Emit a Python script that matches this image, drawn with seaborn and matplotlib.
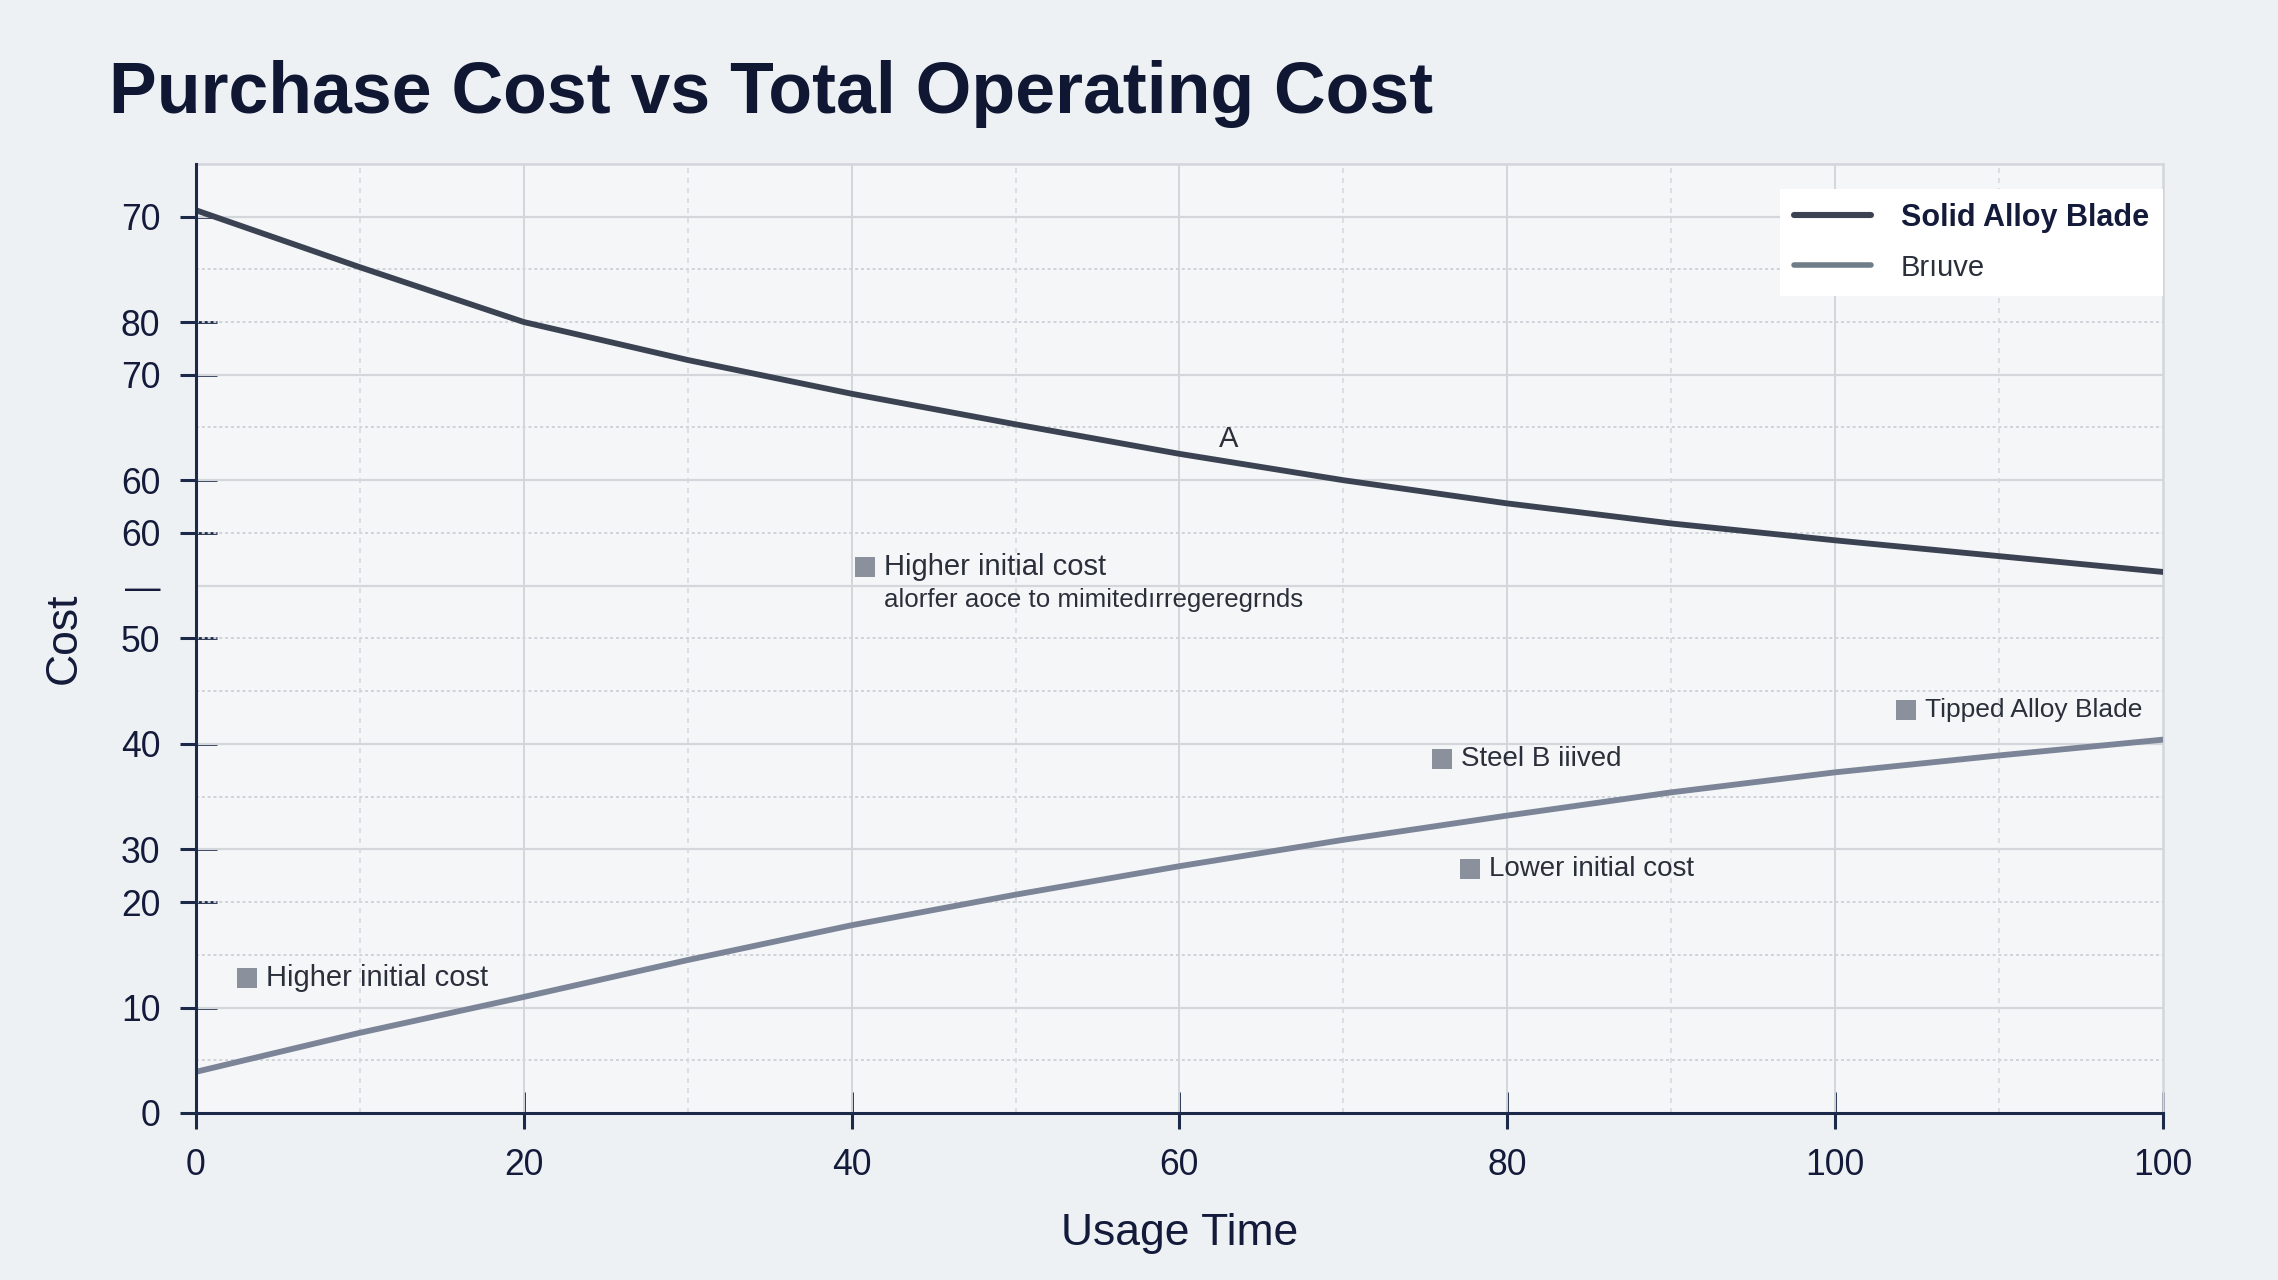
import matplotlib
matplotlib.use("Agg")
import matplotlib.pyplot as plt
from matplotlib.lines import Line2D
from matplotlib.collections import LineCollection
import matplotlib.transforms as mtransforms
import numpy as np
import pandas as pd
import seaborn as sns

# ---------------- data ----------------
usage_time = [0, 10, 20, 30, 40, 50, 60, 70, 80, 90, 100, 110, 120]
solid_alloy_cost = [85.6, 80.2, 75.0, 71.4, 68.2, 65.3, 62.5, 60.0, 57.8, 55.9, 54.3, 52.8, 51.3]
tipped_cost = [3.9, 7.6, 11.0, 14.5, 17.8, 20.7, 23.4, 25.9, 28.2, 30.4, 32.3, 33.9, 35.4]
series_names = ["Solid Alloy Blade", "Brıuve"]

x_tick_pos = [0, 20, 40, 60, 80, 100, 120]
x_tick_labels = ["0", "20", "40", "60", "80", "100", "100"]
y_tick_pos = [0, 10, 20, 25, 35, 45, 50, 55, 60, 70, 75, 85]
y_tick_labels = ["0", "10", "20", "30", "40", "50", "—", "60", "60", "70", "80", "70"]

grid_solid_y = [10, 25, 35, 50, 60, 70, 85]
grid_dotted_y = [5, 15, 20, 30, 40, 45, 55, 65, 75, 80]
grid_solid_x = [20, 40, 60, 80, 100]
grid_dashed_x = [10, 30, 50, 70, 90, 110]

note_texts = ["Higher initial cost", "Steel B iiived", "Tipped Alloy Blade",
              "Lower initial cost", "Higher initial cost"]
note_x = [40.8, 76.0, 104.3, 77.7, 3.1]
note_y = [51.8, 33.6, 38.2, 23.1, 12.8]
note_sizes = [10.5, 10, 9.5, 10, 10.5]
sub_note_text = "alorfer aoce to mimitedırregeregrnds"
sub_note_xy = (42.0, 48.6)
letter_note = "A"
letter_xy = (63.0, 63.9)

# ---------------- style ----------------
sns.set_theme(style="white")
plt.rcParams["font.family"] = ["Liberation Sans", "DejaVu Sans"]

FIG_BG = "#eef1f4"
AX_BG = "#f4f6f8"
NAVY = "#141b3a"
DARK_LINE = "#3b4353"
LIGHT_LINE = "#7c8497"
SQUARE = "#8a909c"
AXIS_COL = "#1c2a4a"

fig = plt.figure(figsize=(11.39, 6.4), dpi=200, facecolor=FIG_BG)
ax = fig.add_axes([0.086, 0.1305, 0.8635, 0.7415])
ax.set_facecolor(AX_BG)

df = pd.DataFrame({
    "Usage Time": usage_time * 2,
    "Cost": solid_alloy_cost + tipped_cost,
    "Series": [series_names[0]] * len(usage_time) + [series_names[1]] * len(usage_time),
})
sns.lineplot(data=df, x="Usage Time", y="Cost", hue="Series",
             palette=[DARK_LINE, LIGHT_LINE], linewidth=2.1, ax=ax, legend=False,
             zorder=5)

ax.set_xlim(0, 120)
ax.set_ylim(0, 90)

# grid
for y in grid_solid_y:
    ax.axhline(y, color="#d3d7dc", lw=0.8, zorder=1)
for y in grid_dotted_y:
    ax.axhline(y, color="#cfd3d8", lw=0.7, ls=(0, (1.5, 1.5)), zorder=1)
for x in grid_solid_x:
    ax.axvline(x, color="#d3d7dc", lw=0.7, zorder=1)
for x in grid_dashed_x:
    ax.axvline(x, color="#d6dadf", lw=0.6, ls=(0, (3, 3)), zorder=1)

# spines
for s in ["top", "right"]:
    ax.spines[s].set_color("#d2d6db")
    ax.spines[s].set_linewidth(0.9)
for s in ["left", "bottom"]:
    ax.spines[s].set_color(AXIS_COL)
    ax.spines[s].set_linewidth(1.1)
    ax.spines[s].set_zorder(7)

# ticks
ax.xaxis.remove_overlapping_locs = False
ax.yaxis.remove_overlapping_locs = False
ax.set_xticks(x_tick_pos)
ax.set_xticklabels(x_tick_labels)
ax.set_yticks(y_tick_pos)
ax.set_yticklabels(y_tick_labels)
marked_y = [p for p, l in zip(y_tick_pos, y_tick_labels) if l != "—"]
ax.set_xticks(x_tick_pos, minor=True)
ax.set_yticks(marked_y, minor=True)
ax.tick_params(axis="both", which="major", left=True, bottom=True,
               direction="out", length=0, width=1.0,
               color=AXIS_COL, labelsize=12.8, labelcolor=NAVY)
ax.tick_params(axis="both", which="minor", left=True, bottom=True,
               direction="in", length=7.5, width=1.0, color=AXIS_COL,
               labelleft=False, labelbottom=False)
ax.tick_params(axis="y", which="major", pad=12.8)
ax.tick_params(axis="x", which="major", pad=12.5)

# outer tick stubs as figure-level artists (not clipped by the axes)
xtr = mtransforms.blended_transform_factory(ax.transData, ax.transAxes)
ytr = mtransforms.blended_transform_factory(ax.transAxes, ax.transData)
x_segs = [[(x, -0.017), (x, 0.0)] for x in x_tick_pos]
y_segs = [[(-0.0082, y), (0.0, y)] for y in marked_y]
fig.add_artist(LineCollection(x_segs, transform=xtr, colors=AXIS_COL,
                              linewidths=1.1, zorder=9))
fig.add_artist(LineCollection(y_segs, transform=ytr, colors=AXIS_COL,
                              linewidths=1.1, zorder=9))

ax.set_xlabel("Usage Time", fontsize=16, color=NAVY, labelpad=11)
ax.set_ylabel("Cost", fontsize=16, color=NAVY, labelpad=13)

# annotations
for t, x, y, fs in zip(note_texts, note_x, note_y, note_sizes):
    ax.scatter([x], [y], marker="s", s=48, color=SQUARE, zorder=6, linewidths=0)
    ax.annotate(t, (x, y), xytext=(7, 0), textcoords="offset points",
                va="center", ha="left", fontsize=fs, color="#2a2f3a", zorder=6)
ax.text(sub_note_xy[0], sub_note_xy[1], sub_note_text, fontsize=9.3,
        color="#2a2f3a", va="center", ha="left", zorder=6)
ax.text(letter_xy[0], letter_xy[1], letter_note, fontsize=10.5,
        color="#2a2f3a", va="center", ha="center", zorder=6)

# legend
handles = [Line2D([], [], color=DARK_LINE, lw=2.2),
           Line2D([], [], color="#6f7d88", lw=2.0)]
leg = ax.legend(handles, series_names, loc="upper right",
                bbox_to_anchor=(1.0, 1 - 25 / 949), borderaxespad=0,
                frameon=True, fancybox=False, framealpha=1, facecolor="white",
                edgecolor="white", fontsize=11, handlelength=2.5,
                handletextpad=1.0, borderpad=0.45, labelspacing=0.7)
leg.get_frame().set_linewidth(0)
leg.set_zorder(10)
texts = leg.get_texts()
texts[0].set_fontweight("bold")
texts[0].set_color(NAVY)
texts[1].set_color("#2a2f3a")
texts[1].set_fontsize(10.5)

# title
fig.text(0.048, 0.912, "Purchase Cost vs Total Operating Cost", fontsize=25.8,
         fontweight="bold", color="#0f1733", ha="left", va="baseline")

fig.savefig("out.png", dpi=200, facecolor=FIG_BG)
